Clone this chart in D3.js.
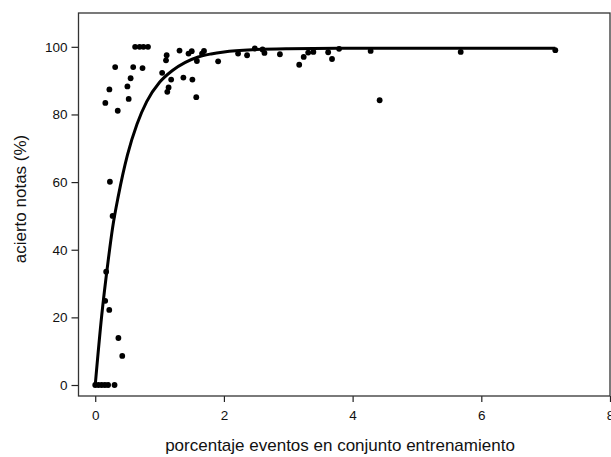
<!DOCTYPE html>
<html>
<head>
<meta charset="utf-8">
<script src="https://cdn.jsdelivr.net/npm/d3@7"></script>
<style>
  body { margin: 0; background: #fff; }
  svg { display: block; font-family: "Liberation Sans", Arial, sans-serif; }
</style>
</head>
<body>
<svg id="chart"></svg>
<script>
const pointX = [0, 0.05, 0.1, 0.15, 0.2, 0.3,
  0.155, 0.17, 0.218, 0.27, 0.36, 0.42, 0.228,
  0.157, 0.22, 0.31, 0.35, 0.50, 0.55, 0.52, 0.59, 0.62, 0.69, 0.75, 0.82, 0.735,
  1.04, 1.11, 1.10, 1.18, 1.14, 1.12, 1.31, 1.37, 1.45, 1.50, 1.51, 1.57, 1.58,
  1.66, 1.69, 1.91, 2.22, 2.36, 2.48, 2.60, 2.63, 2.87, 3.17, 3.24, 3.31, 3.39,
  3.62, 3.68, 3.79, 4.28, 4.42, 5.68, 7.15];
const pointY = [0, 0, 0, 0, 0, 0,
  24.9, 33.5, 22.2, 50.0, 13.9, 8.6, 60.1,
  83.4, 87.4, 94.0, 81.1, 88.3, 90.7, 84.6, 94.0, 100, 100, 100, 100, 93.7,
  92.3, 97.5, 96.0, 90.3, 88.0, 86.7, 98.9, 90.9, 98.0, 98.7, 90.3, 85.1, 95.8,
  98.0, 98.8, 95.7, 98.0, 97.5, 99.5, 99.2, 98.2, 97.8, 94.7, 97.0, 98.3, 98.5,
  98.4, 96.4, 99.4, 98.8, 84.2, 98.5, 99.0];

// Fitted curve
const curveX = [0, 0.1, 0.2, 0.27, 0.36, 0.5, 0.65, 0.8, 1.0, 1.2, 1.4, 1.6, 1.8, 2.0, 2.5, 3.0, 4.0, 5.0, 6.0, 7.15];
const curveY = [0, 20.4, 36.6, 46.5, 56, 68, 77.2, 83.8, 89.5, 93.0, 95.4, 97.0, 97.9, 98.5, 99.2, 99.45, 99.6, 99.6, 99.6, 99.6];

const xTicks = [0, 2, 4, 6, 8];
const yTicks = [0, 20, 40, 60, 80, 100];

const width = 611, height = 457;
const plot = { left: 78.5, right: 610, top: 13, bottom: 396 };

const svg = d3.select("#chart").attr("width", width).attr("height", height);

const x = d3.scaleLinear().domain([-0.26, 8]).range([plot.left, plot.right]);
const y = d3.scaleLinear().domain([-3.25, 110]).range([plot.bottom, plot.top]);

// Axes
const xAxis = svg.append("g")
  .attr("transform", `translate(0,${plot.bottom})`)
  .call(d3.axisBottom(x).tickValues(xTicks).tickSize(6).tickPadding(8).tickFormat(d3.format("d")));
const yAxis = svg.append("g")
  .attr("transform", `translate(${plot.left},0)`)
  .call(d3.axisLeft(y).tickValues(yTicks).tickSize(7).tickPadding(4).tickFormat(d3.format("d")));

[xAxis, yAxis].forEach(a => {
  a.select(".domain").remove();
  a.selectAll(".tick line").attr("stroke", "#222").attr("stroke-width", 1.2);
  a.selectAll(".tick text").attr("fill", "#111").style("font-size", "13.5px");
});

// Frame
svg.append("rect")
  .attr("x", plot.left).attr("y", plot.top)
  .attr("width", plot.right - plot.left).attr("height", plot.bottom - plot.top)
  .attr("fill", "none").attr("stroke", "#333").attr("stroke-width", 1.3);

// Curve
const curveData = curveX.map((d, i) => [d, curveY[i]]);
svg.append("path")
  .datum(curveData)
  .attr("fill", "none")
  .attr("stroke", "#000")
  .attr("stroke-width", 3)
  .attr("d", d3.line().x(d => x(d[0])).y(d => y(d[1])).curve(d3.curveMonotoneX));

// Points
svg.append("g")
  .selectAll("circle")
  .data(pointX.map((d, i) => [d, pointY[i]]))
  .join("circle")
  .attr("cx", d => x(d[0]))
  .attr("cy", d => y(d[1]))
  .attr("r", 2.9)
  .attr("fill", "#000");

// Axis labels
svg.append("text")
  .attr("x", 340).attr("y", 451)
  .attr("text-anchor", "middle")
  .style("font-size", "17px")
  .attr("fill", "#111")
  .text("porcentaje eventos en conjunto entrenamiento");

svg.append("text")
  .attr("transform", "translate(26,199) rotate(-90)")
  .attr("text-anchor", "middle")
  .style("font-size", "17px")
  .attr("fill", "#111")
  .text("acierto notas (%)");
</script>
</body>
</html>
